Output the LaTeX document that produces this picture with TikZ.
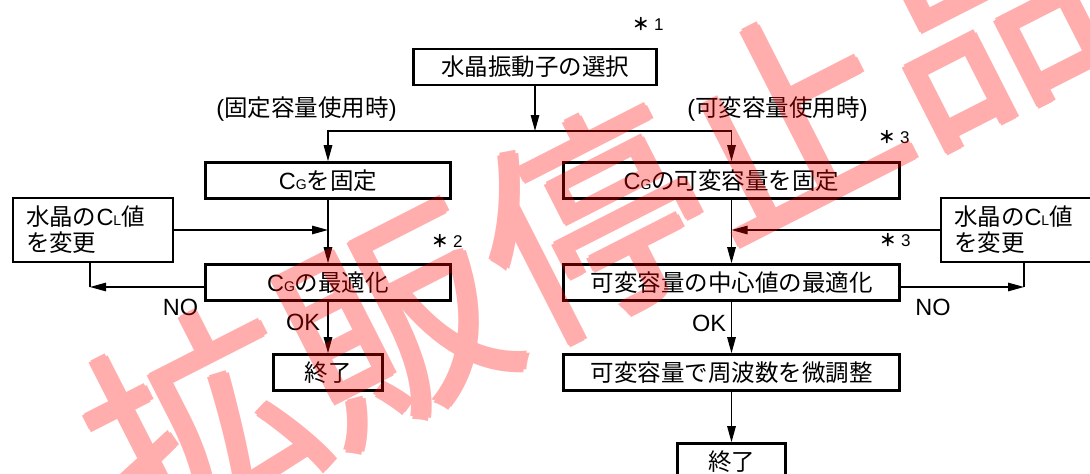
\documentclass[tikz,border=0pt]{standalone}
\usepackage{fontspec}
\setmainfont{Liberation Sans}
\newfontfamily\jp{Noto Sans CJK JP}
\newfontfamily\wmfont{Noto Sans CJK JP}
\usetikzlibrary{arrows.meta}
\newcommand\subsm[1]{{\fontsize{14}{14}\selectfont #1}}
\newcommand\myast{{\jp\bfseries ＊}}
\begin{document}
\begin{tikzpicture}[x=1pt,y=-1pt,
  box/.style={draw, line width=2.6pt, inner sep=0pt, minimum height=36pt, font=\fontsize{23.5}{26}\selectfont},
  sidebox/.style={draw, line width=2.6pt, minimum height=64pt, text width=134pt, inner xsep=13pt, inner ysep=0pt, align=left, font=\fontsize{23.5}{26}\selectfont},
  lbl/.style={inner sep=0pt, font=\fontsize{23.5}{26}\selectfont},
  note/.style={inner sep=0pt, font=\fontsize{17}{20}\selectfont},
  arr/.style={line width=1.3pt, -{Triangle[length=16pt,width=8.5pt]}},
  ln/.style={line width=1.3pt},
  wmark/.style={rotate=27, text=red, inner sep=0pt, font=\wmfont\fontsize{220}{220}\selectfont},
]
\clip (0,0) rectangle (1090,474);
\fill[white] (0,0) rectangle (1090,474);

% boxes
\node[box, minimum width=243pt] (sel) at (535,67) {\jp 水晶振動子の選択};
\node[box, minimum width=245pt] (cgfix) at (328,180.5) {C\subsm{G}{\jp を固定}};
\node[box, minimum width=336pt] (cgvar) at (731.5,180.5) {C\subsm{G}{\jp の可変容量を固定}};
\node[sidebox] (chgL) at (93,230) {{\jp 水晶の}C\subsm{L}{\jp 値}\\{\jp を変更}};
\node[sidebox] (chgR) at (1021,230) {{\jp 水晶の}C\subsm{L}{\jp 値}\\{\jp を変更}};
\node[box, minimum width=245pt] (opt) at (328,282.5) {C\subsm{G}{\jp の最適化}};
\node[box, minimum width=336pt] (center) at (731.5,282.5) {\jp 可変容量の中心値の最適化};
\node[box, minimum width=109pt] (endL) at (328,372.5) {\jp 終了};
\node[box, minimum width=336pt] (fine) at (731.5,372.5) {\jp 可変容量で周波数を微調整};
\node[box, minimum width=108pt] (endR) at (731.5,461.5) {\jp 終了};

% labels
\node[lbl] (lblfix) at (306.5,109) {({\jp 固定容量使用時})};
\node[lbl] (lblvar) at (777.5,109) {({\jp 可変容量使用時})};
\node[lbl] (noLlbl) at (180.5,307) {NO};
\node[lbl] (noRlbl) at (933,307) {NO};
\node[lbl] (okL) at (303,322) {OK};
\node[lbl] (okR) at (709,323) {OK};
\node[note] (n1) at (648,24) {\myast\ 1};
\node[note] (n2) at (447,241) {\myast\ 2};
\node[note] (n3a) at (894,137) {\myast\ 3};
\node[note] (n3b) at (895,240) {\myast\ 3};

% connectors
\coordinate (split) at (535,131);
\draw[arr] (sel) -- (split);
\draw[arr] (split) -| (cgfix.north);
\draw[arr] (split) -| (cgvar.north);
\draw[arr] (cgfix) -- (opt);
\coordinate (jL) at (cgfix.south |- chgL.east);
\draw[arr] (chgL.east) -- (jL);
\coordinate (noL) at (90,287);
\draw[arr] (opt.west |- noL) -- (noL);
\draw[ln] (noL) -- (noL |- chgL.south);
\draw[arr] (opt) -- (endL);

\draw[arr] (cgvar) -- (center);
\coordinate (jR) at (cgvar.south |- chgR.west);
\draw[arr] (chgR.west) -- (jR);
\coordinate (noR) at (1024,287);
\draw[arr] (center.east |- noR) -- (noR);
\draw[ln] (noR) -- (noR |- chgR.south);
\draw[arr] (center) -- (fine);
\draw[arr] (fine) -- (endR);

% watermark (one transparency group, drawn with small offsets to thicken strokes)
\begin{scope}[transparency group, opacity=0.32]
\node[wmark] (wm) at (592,222) {拡販停止品};
\node[wmark] (wmA) at (589.5,222) {拡販停止品};
\node[wmark] (wmB) at (594.5,222) {拡販停止品};
\node[wmark] (wmC) at (592,219.5) {拡販停止品};
\node[wmark] (wmD) at (592,224.5) {拡販停止品};
\end{scope}
\end{tikzpicture}
\end{document}
